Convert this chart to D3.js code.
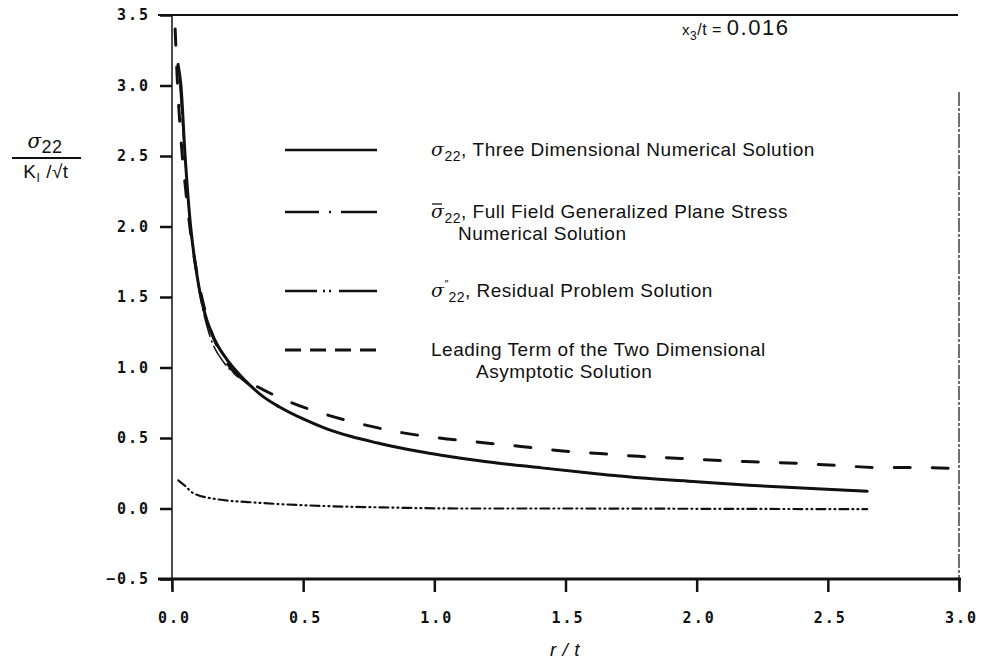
<!DOCTYPE html>
<html><head><meta charset="utf-8">
<script src="https://cdn.jsdelivr.net/npm/d3@7"></script>
<style>
body{margin:0;background:#fff;}
svg{display:block;}
.tick text{font-family:"DejaVu Sans Mono",monospace;font-size:15px;font-weight:bold;letter-spacing:2px;fill:#111;}
.lg{font-family:"Liberation Sans",Arial,sans-serif;font-size:19px;letter-spacing:0.5px;fill:#111;}
</style></head>
<body>
<script>
// ---- data ----
const solidX = [0.023,0.034,0.05,0.071,0.09,0.11,0.132,0.15,0.17,0.208,0.25,0.297,0.35,0.41,0.5,0.59,0.68,0.78,0.9,1.02,1.2,1.4,1.6,1.78,2.0,2.2,2.4,2.65];
const solidY = [3.15,3.0,2.5,2.0,1.72,1.5,1.34,1.25,1.17,1.06,0.965,0.875,0.79,0.72,0.635,0.565,0.512,0.466,0.418,0.38,0.332,0.29,0.25,0.218,0.19,0.165,0.145,0.123];

const fullX = [0.03,0.05,0.071,0.09,0.11,0.145,0.2,0.25,0.3,0.35,0.41,0.5,0.59,0.78,1.02,1.4,1.78,2.2,2.65];
const fullY = [3.0,2.48,1.98,1.7,1.48,1.22,1.03,0.94,0.865,0.79,0.72,0.635,0.565,0.466,0.38,0.29,0.218,0.165,0.123];

const resX = [0.024,0.05,0.08,0.157,0.335,0.59,0.8,1.1,1.5,2.0,2.65];
const resY = [0.20,0.16,0.11,0.07,0.04,0.017,0.008,0.0,0.0,-0.002,-0.005];

const leadX = [0.012,0.02,0.035,0.05,0.075,0.1,0.145,0.2,0.24,0.31,0.43,0.58,0.73,0.87,1.02,1.17,1.33,1.48,1.63,1.78,1.94,2.09,2.24,2.39,2.54,2.70,2.84,3.0];
const leadY = [3.40,3.05,2.6,2.3,1.9,1.62,1.28,1.06,0.96,0.88,0.77,0.67,0.595,0.54,0.50,0.47,0.44,0.41,0.39,0.37,0.355,0.34,0.33,0.32,0.305,0.29,0.29,0.283];

const xTicks = [0,0.5,1.0,1.5,2.0,2.5,3.0];
const yTicks = [-0.5,0,0.5,1.0,1.5,2.0,2.5,3.0,3.5];
const legendLabels = ["Three Dimensional Numerical Solution","Full Field Generalized Plane Stress","Residual Problem Solution","Leading Term of the Two Dimensional"];

// ---- chart ----
const W=990,H=669;
const svg=d3.select("body").append("svg").attr("width",W).attr("height",H);
const x=d3.scaleLinear().domain([0,3]).range([172,959]);
const y=d3.scaleLinear().domain([-0.5,3.5]).range([579,15]);

// frame
svg.append("line").attr("x1",158).attr("x2",958).attr("y1",y(3.5)).attr("y2",y(3.5)).attr("stroke","#111").attr("stroke-width",2);
svg.append("line").attr("x1",158).attr("x2",961).attr("y1",y(-0.5)).attr("y2",y(-0.5)).attr("stroke","#111").attr("stroke-width",3);
svg.append("line").attr("x1",x(3)).attr("x2",x(3)).attr("y1",92).attr("y2",590).attr("stroke","#111").attr("stroke-width",1.2).attr("stroke-dasharray","14,2,3,2");

// y axis
const ya=svg.append("g").attr("transform",`translate(${x(0)},0)`)
 .call(d3.axisLeft(y).tickValues(yTicks).tickSize(12).tickPadding(10).tickFormat(d3.format(".1f")));
ya.select(".domain").attr("stroke","#111").attr("stroke-width",1.5).attr("d",`M0,${y(3.5)}V590`);
ya.selectAll(".tick line").attr("stroke","#111").attr("stroke-width",2.5);

// x axis
const xa=svg.append("g").attr("transform",`translate(0,${y(-0.5)})`)
 .call(d3.axisBottom(x).tickValues(xTicks).tickSize(13).tickPadding(20).tickFormat(d3.format(".1f")));
xa.select(".domain").remove();
xa.selectAll(".tick line").attr("stroke","#111").attr("stroke-width",2.5);
xa.selectAll(".tick text").attr("dx","2");

// curves
const line=d3.line().x(d=>x(d[0])).y(d=>y(d[1])).curve(d3.curveMonotoneX);
function draw(xs,ys,dash,w){
  svg.append("path").datum(xs.map((v,i)=>[v,ys[i]])).attr("d",line)
   .attr("fill","none").attr("stroke","#111").attr("stroke-width",w)
   .attr("stroke-dasharray",dash).attr("stroke-linecap","round");
}
draw(leadX,leadY,"16,22",3);
draw(fullX,fullY,"22,5,1,5",1.6);
draw(resX,resY,"9,4,1,4,1,4",2.2);
draw(solidX,solidY,null,3);

// legend
const lgRows=[150,212,291,350];
const lgDash=[null,"34,10,2,10,40","32,6,2,4,2,8,40","16,9"];
const lgW=[2.5,2.5,2.5,3];
lgRows.forEach((ry,i)=>{
  svg.append("line").attr("x1",285).attr("x2",377).attr("y1",ry).attr("y2",ry)
   .attr("stroke","#111").attr("stroke-width",lgW[i]).attr("stroke-dasharray",lgDash[i]);
});
function sig(yy,accent,label){
  const tx=svg.append("text").attr("class","lg").attr("x",431).attr("y",yy);
  tx.append("tspan").attr("font-style","italic").attr("font-family","DejaVu Serif, serif").text("σ");
  if(accent==="dprime"){
    tx.append("tspan").attr("dy",-9).attr("font-size",11).attr("letter-spacing",0).text("″");
    tx.append("tspan").attr("dy",14).attr("font-size",14).text("22");
    tx.append("tspan").attr("dy",-5).text(", "+label);
  } else {
    tx.append("tspan").attr("dy",5).attr("font-size",14).text("22");
    tx.append("tspan").attr("dy",-5).text(", "+label);
  }
  if(accent==="bar") svg.append("line").attr("x1",432).attr("x2",442).attr("y1",yy-14).attr("y2",yy-14).attr("stroke","#111").attr("stroke-width",1.3);
}
sig(156,null,legendLabels[0]);
sig(218,"bar",legendLabels[1]);
svg.append("text").attr("class","lg").attr("x",458).attr("y",240).text("Numerical Solution");
sig(297,"dprime",legendLabels[2]);
svg.append("text").attr("class","lg").attr("x",431).attr("y",356).text(legendLabels[3]);
svg.append("text").attr("class","lg").attr("x",476).attr("y",378).text("Asymptotic Solution");

// annotation
const an=svg.append("text").attr("class","lg").attr("x",682).attr("y",35);
an.append("tspan").attr("font-size",15).text("x");
an.append("tspan").attr("dy",5).attr("font-size",12).text("3");
an.append("tspan").attr("dy",-5).attr("font-size",16).text("/t = ");
an.append("tspan").attr("font-size",22).attr("letter-spacing",1.5).text("0.016");

// y label
const yl=svg.append("g");
const t1=yl.append("text").attr("x",45).attr("y",148).attr("text-anchor","middle").attr("class","lg");
t1.append("tspan").attr("font-family","DejaVu Serif, serif").attr("font-style","italic").attr("font-size",20).text("σ");
t1.append("tspan").attr("dy",5).attr("font-size",18).text("22");
yl.append("line").attr("x1",12).attr("x2",81).attr("y1",158).attr("y2",158).attr("stroke","#111").attr("stroke-width",2);
const t2=yl.append("text").attr("x",46).attr("y",178).attr("text-anchor","middle").attr("class","lg").attr("font-size",20);
t2.append("tspan").text("K");
t2.append("tspan").attr("dy",4).attr("font-size",12).text("I");
t2.append("tspan").attr("dy",-4).text(" /√t");

// x label
svg.append("text").attr("x",565).attr("y",656).attr("text-anchor","middle").attr("class","lg")
 .attr("font-style","italic").attr("font-size",18).text("r / t");
</script>
</body></html>
